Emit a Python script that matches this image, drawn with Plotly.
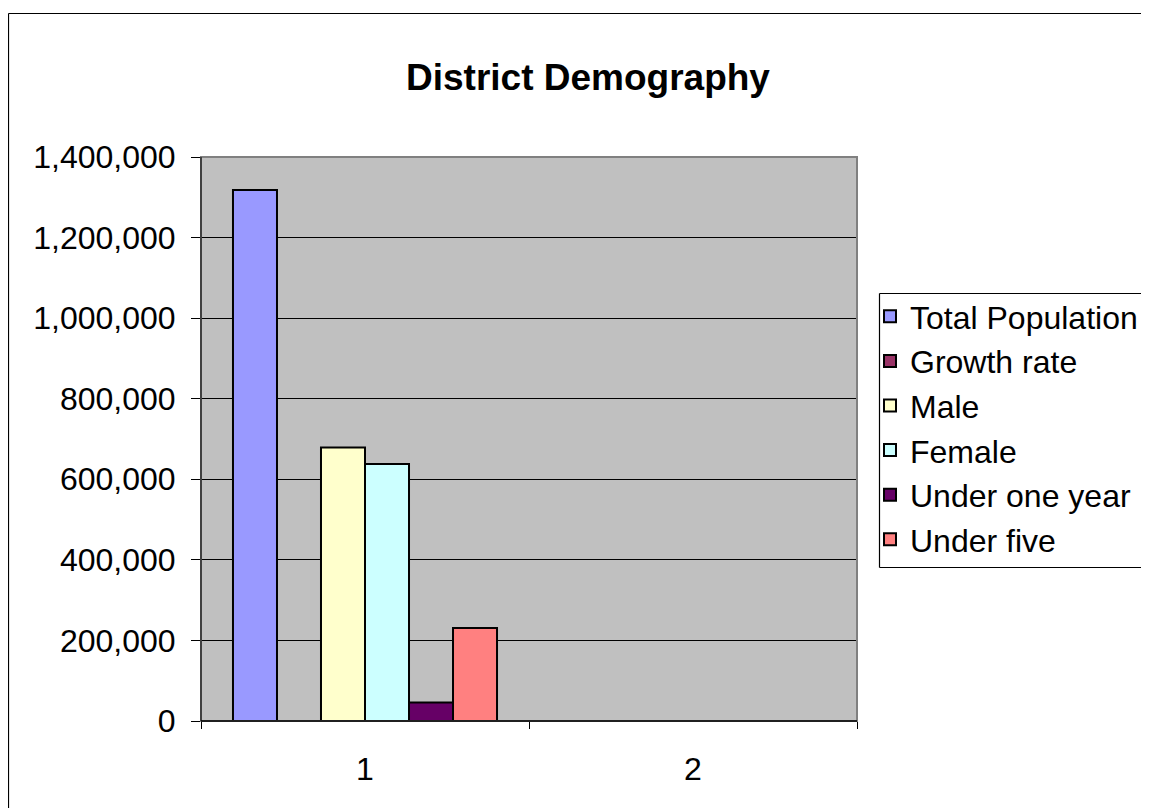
import plotly.graph_objects as go

categories = ["1", "2"]
series_names = ["Total Population", "Growth rate", "Male", "Female", "Under one year", "Under five"]
total_population = [1318000, None]
growth_rate = [3.2, None]
male = [679000, None]
female = [638000, None]
under_one_year = [46000, None]
under_five = [231000, None]
series_values = [total_population, growth_rate, male, female, under_one_year, under_five]
series_colors = ["#9999FF", "#993366", "#FFFFCC", "#CCFFFF", "#660066", "#FF8080"]
y_ticks = [0, 200000, 400000, 600000, 800000, 1000000, 1200000, 1400000]

# page has an 8px body margin; work in page pixels and shift
OFF = 8
W, H = 1149 - OFF, 808 - OFF
L, R, T, B = 201 - OFF, 857 - OFF, 157 - OFF, 721 - OFF
pw, ph = R - L, B - T

def px_x(p):
    return (p - OFF - L) / pw

def px_y(p):
    return (B - (p - OFF)) / ph

FONT = "Liberation Sans, Arial, sans-serif"

fig = go.Figure()
for name, vals, col in zip(series_names, series_values, series_colors):
    fig.add_trace(go.Bar(
        x=categories, y=vals, name=name,
        marker=dict(color=col, line=dict(color="black", width=2)),
    ))

fig.update_layout(
    width=W, height=H,
    paper_bgcolor="white", plot_bgcolor="#C0C0C0",
    barmode="group", bargap=0.195, bargroupgap=0,
    margin=dict(l=L, r=W - R, t=T, b=H - B, autoexpand=False),
    font=dict(family=FONT, color="black", size=32),
    title=dict(text="<b>District Demography</b>", x=(588 - OFF) / W, xanchor="center",
               y=1 - (77 - OFF) / H, yanchor="middle", yref="container",
               font=dict(family=FONT, size=37, color="black")),
    legend=dict(x=px_x(870), y=px_y(289), xanchor="left", yanchor="top",
                borderwidth=0, bgcolor="rgba(0,0,0,0)",
                font=dict(family=FONT, size=32, color="black"),
                tracegroupgap=0),
    showlegend=True,
)

fig.update_xaxes(
    type="category", showgrid=False, showline=True, linecolor="black", linewidth=1,
    ticks="outside", tickson="boundaries", ticklen=7, tickcolor="black",
    ticklabelstandoff=20, tickfont=dict(family=FONT, size=32, color="black"),
    zeroline=False, fixedrange=True,
)
fig.update_yaxes(
    range=[0, 1400000], tickvals=y_ticks, tickformat=",d",
    showgrid=True, gridcolor="black", gridwidth=1,
    showline=True, linecolor="black", linewidth=1,
    ticks="outside", ticklen=9, tickcolor="black", ticklabelstandoff=9,
    tickfont=dict(family=FONT, size=32, color="black"),
    zeroline=False,
)

def seg(x0, y0, x1, y1, color="black", width=1.2, layer="below"):
    fig.add_shape(type="line", xref="paper", yref="paper",
                  x0=px_x(x0), y0=px_y(y0), x1=px_x(x1), y1=px_y(y1),
                  line=dict(color=color, width=width), layer=layer)

# plot-area border (gray) and axis lines
fig.add_shape(type="rect", xref="paper", yref="paper", x0=0, y0=0, x1=1, y1=1,
              line=dict(color="#808080", width=2), layer="above")
fig.add_shape(type="line", xref="paper", yref="paper", x0=0, y0=0, x1=0, y1=1,
              line=dict(color="black", width=1), layer="above")
fig.add_shape(type="line", xref="paper", yref="paper", x0=0, y0=0, x1=1, y1=0,
              line=dict(color="black", width=1.5), layer="above")
# outer chart border (only left and top edges are inside the picture)
seg(8.5, 13.5, 8.5, 808)
seg(8.5, 13.5, 1149, 13.5)
# legend box (right edge lies beyond the picture)
seg(879.5, 293.5, 1149, 293.5)
seg(879.5, 567.5, 1149, 567.5)
seg(879.5, 293.5, 879.5, 567.5)

fig.write_html("out.html")
